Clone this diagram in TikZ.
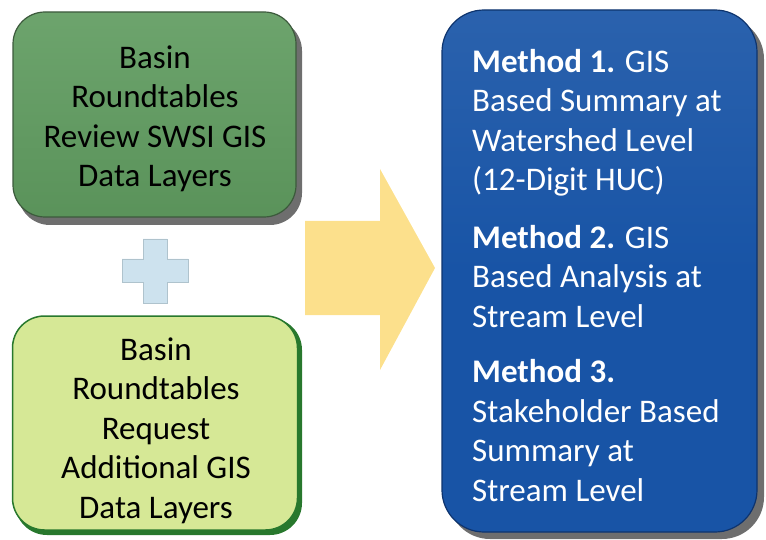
\documentclass[tikz,border=0pt]{standalone}
\usepackage{fontspec}
\setmainfont{Carlito}
\definecolor{boxgreen}{RGB}{96,156,96}
\definecolor{boxgreenedge}{RGB}{60,90,60}
\definecolor{lightgreen}{RGB}{214,232,150}
\definecolor{darkgreen}{RGB}{40,120,45}
\definecolor{methblue}{RGB}{24,84,166}
\definecolor{methedge}{RGB}{14,52,110}
\definecolor{shadowgray}{RGB}{110,110,110}
\definecolor{arrowyellow}{RGB}{252,224,140}
\definecolor{plusblue}{RGB}{205,226,238}
\definecolor{plusedge}{RGB}{175,195,205}
\begin{document}
\begin{tikzpicture}[x=1pt,y=-1pt,
  txt/.style={inner sep=0pt,font=\fontsize{33}{39.5}\selectfont},
]
\useasboundingbox (0,0) rectangle (766,540);
% box 1
\fill[shadowgray,rounded corners=32pt] (18,19) rectangle (302,225);
\node[draw=boxgreenedge,line width=1.2pt,top color=boxgreen!92!white,bottom color=boxgreen!94!black,
  rounded corners=32pt,minimum width=283pt,minimum height=205pt] (b1) at (154.5,114.5) {};
\node[txt,anchor=north,align=center,text=black] (t1) at (155,43)
  {\rule{0pt}{25pt}Basin\\Roundtables\\Review SWSI GIS\\Data Layers};
% plus
\draw[fill=plusblue,draw=plusedge,line width=0.6pt] (143,239) -- (167,239) -- (167,259) -- (188,259) -- (188,282)
  -- (167,282) -- (167,303) -- (143,303) -- (143,282) -- (122,282) -- (122,259) -- (143,259) -- cycle;
% box 2
\fill[darkgreen,rounded corners=32pt] (15,318) rectangle (302,535);
\node[draw=darkgreen,line width=1.5pt,fill=lightgreen,
  rounded corners=32pt,minimum width=285pt,minimum height=214pt] (b2) at (155,423) {};
\node[txt,anchor=north,align=center,text=black] (t2) at (156,335)
  {\rule{0pt}{25pt}Basin\\Roundtables\\Request\\Additional GIS\\Data Layers};
% arrow
\fill[arrowyellow] (305,221) -- (380,221) -- (380,169) -- (435,268) -- (380,370) -- (380,315) -- (305,315) -- cycle;
% blue box
\fill[shadowgray,rounded corners=42pt] (448,17) rectangle (764,539);
\node[draw=methedge,line width=1.2pt,top color=methblue!92!white,bottom color=methblue,middle color=methblue,
  rounded corners=42pt,minimum width=315pt,minimum height=522pt] (b3) at (599.5,271) {};
\node[txt,anchor=north west,align=left,text=white] (t3) at (472,47)
  {\rule{0pt}{25pt}\textbf{Method 1.} GIS\\Based Summary at\\Watershed Level\\(12-Digit HUC)\\[18pt]
   \textbf{Method 2.} GIS\\Based Analysis at\\Stream Level\\[16pt]
   \textbf{Method 3.}\\Stakeholder Based\\Summary at\\Stream Level};
\end{tikzpicture}
\end{document}
